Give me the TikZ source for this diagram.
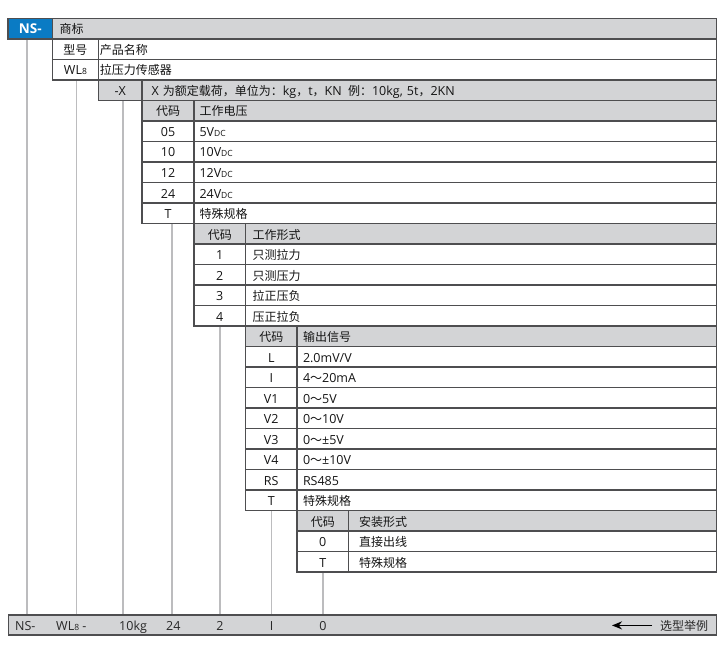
\documentclass[tikz,border=0pt]{standalone}
\usepackage{fontspec}
\setmainfont{Open Sans}
\newfontfamily\cjkfam{Noto Sans CJK SC}
\newcommand\cjk{\cjkfam\fontsize{12pt}{14pt}\selectfont}
\usetikzlibrary{arrows.meta,backgrounds}

\definecolor{edgec}{RGB}{78,78,80}
\definecolor{headc}{RGB}{211,212,214}
\definecolor{brandc}{RGB}{10,123,196}
\definecolor{linec}{RGB}{188,188,190}
\definecolor{txtc}{RGB}{20,20,20}
\definecolor{barc}{RGB}{40,40,40}

\newcommand\lowcaps[1]{{\fontsize{8.5pt}{9pt}\selectfont #1}}

\tikzset{
  cell/.style={draw=edgec, line width=1.1pt, minimum height=20.5pt, inner sep=0pt, outer sep=0pt,
    anchor=north west, text=txtc, text height=11pt, text depth=0.5pt, font=\fontsize{12.5pt}{14pt}\selectfont},
  brandtxt/.style={cell, minimum width=664pt, text width=650pt, align=left},
  modelcode/.style={cell, minimum width=45.8pt},
  modeltxt/.style={cell, minimum width=618.2pt, text width=615.2pt, align=left},
  loadcode/.style={cell, minimum width=43.7pt},
  loadtxt/.style={cell, minimum width=574.5pt, text width=555.5pt, align=left},
  voltcode/.style={cell, minimum width=52pt},
  volttxt/.style={cell, minimum width=522.5pt, text width=511.5pt, align=left},
  formcode/.style={cell, minimum width=51.5pt},
  formtxt/.style={cell, minimum width=471pt, text width=457pt, align=left},
  outcode/.style={cell, minimum width=51.5pt},
  outtxt/.style={cell, minimum width=419.5pt, text width=407.5pt, align=left},
  mountcode/.style={cell, minimum width=51.5pt},
  mounttxt/.style={cell, minimum width=368pt, text width=347pt, align=left},
  vline/.style={draw=linec, line width=1.5pt},
  bartxt/.style={anchor=base west, inner sep=0pt, text=barc, font=\fontsize{12.5pt}{14pt}\selectfont},
  pointer/.style={-{Stealth[length=10pt,width=8pt]}, line width=1.8pt, draw=black},
}

\begin{document}
\begin{tikzpicture}[x=1pt,y=1pt,yscale=-1,xscale=1]
\useasboundingbox (0,0) rectangle (726,650);

% Brand row
\node[cell, fill=brandc, minimum width=44.5pt, text=white, font=\fontsize{13.5pt}{15pt}\selectfont\bfseries] (ns) at (8,18.5) {NS-};
\node[brandtxt, fill=headc] (brand) at (52.5,18.5) {\cjk 商标};

% Model rows
\node[modelcode, fill=white] (mhead) at (52.5,39) {\cjk 型号};
\node[modeltxt, fill=white] (mheadt) at (98.3,39) {\cjk 产品名称};
\node[modelcode, fill=white] (wl) at (52.5,59.5) {WL\lowcaps{8}};
\node[modeltxt, fill=white] (wlt) at (98.3,59.5) {\cjk 拉压力传感器};

% Load row
\node[loadcode, fill=headc] (load) at (98.3,80) {-X};
\node[loadtxt, fill=headc] (loadt) at (142,80) {X {\cjk 为额定载荷，单位为：}kg{\cjk ，}t{\cjk ，}KN\enspace{\cjk 例：}10kg, 5t{\cjk ，}2KN};

% Voltage table
\node[voltcode, fill=headc] (vhead) at (142,100.5) {\cjk 代码};
\node[volttxt, fill=headc] (vheadt) at (194,100.5) {\cjk 工作电压};
\node[voltcode] (v05) at (142,121) {05};
\node[volttxt] (v05t) at (194,121) {5V\lowcaps{DC}};
\node[voltcode] (v10) at (142,141.5) {10};
\node[volttxt] (v10t) at (194,141.5) {10V\lowcaps{DC}};
\node[voltcode] (v12) at (142,162) {12};
\node[volttxt] (v12t) at (194,162) {12V\lowcaps{DC}};
\node[voltcode] (v24) at (142,182.5) {24};
\node[volttxt] (v24t) at (194,182.5) {24V\lowcaps{DC}};
\node[voltcode] (vt) at (142,203) {T};
\node[volttxt] (vtt) at (194,203) {\cjk 特殊规格};

% Form table
\node[formcode, fill=headc] (fhead) at (194,223.5) {\cjk 代码};
\node[formtxt, fill=headc] (fheadt) at (245.5,223.5) {\cjk 工作形式};
\node[formcode] (f1) at (194,244) {1};
\node[formtxt] (f1t) at (245.5,244) {\cjk 只测拉力};
\node[formcode] (f2) at (194,264.5) {2};
\node[formtxt] (f2t) at (245.5,264.5) {\cjk 只测压力};
\node[formcode] (f3) at (194,285) {3};
\node[formtxt] (f3t) at (245.5,285) {\cjk 拉正压负};
\node[formcode] (f4) at (194,305.5) {4};
\node[formtxt] (f4t) at (245.5,305.5) {\cjk 压正拉负};

% Output table
\node[outcode, fill=headc] (ohead) at (245.5,326) {\cjk 代码};
\node[outtxt, fill=headc] (oheadt) at (297,326) {\cjk 输出信号};
\node[outcode] (oL) at (245.5,346.5) {L};
\node[outtxt] (oLt) at (297,346.5) {2.0mV/V};
\node[outcode] (oI) at (245.5,367) {I};
\node[outtxt] (oIt) at (297,367) {4{\cjk ～}20mA};
\node[outcode] (oV1) at (245.5,387.5) {V1};
\node[outtxt] (oV1t) at (297,387.5) {0{\cjk ～}5V};
\node[outcode] (oV2) at (245.5,408) {V2};
\node[outtxt] (oV2t) at (297,408) {0{\cjk ～}10V};
\node[outcode] (oV3) at (245.5,428.5) {V3};
\node[outtxt] (oV3t) at (297,428.5) {0{\cjk ～}±5V};
\node[outcode] (oV4) at (245.5,449) {V4};
\node[outtxt] (oV4t) at (297,449) {0{\cjk ～}±10V};
\node[outcode] (oRS) at (245.5,469.5) {RS};
\node[outtxt] (oRSt) at (297,469.5) {RS485};
\node[outcode] (oT) at (245.5,490) {T};
\node[outtxt] (oTt) at (297,490) {\cjk 特殊规格};

% Mount table
\node[mountcode, fill=headc] (ihead) at (297,510.5) {\cjk 代码};
\node[mounttxt, fill=headc] (iheadt) at (348.5,510.5) {\cjk 安装形式};
\node[mountcode] (i0) at (297,531) {0};
\node[mounttxt] (i0t) at (348.5,531) {\cjk 直接出线};
\node[mountcode] (iT) at (297,551.5) {T};
\node[mounttxt] (iTt) at (348.5,551.5) {\cjk 特殊规格};

% Example bar
\node[cell, fill=headc, minimum width=708.4pt, minimum height=20pt] (bar) at (8.3,615) {};
\node[bartxt] (e1) at (15,630) {NS-};
\node[bartxt] (e2) at (56,630) {WL\lowcaps{8} -};
\node[bartxt] (e3) at (119,630) {10kg};
\node[bartxt] (e4) at (166,630) {24};
\node[bartxt, anchor=base] (e5) at (220,630) {2};
\node[bartxt, anchor=base] (e6) at (271.5,630) {I};
\node[bartxt, anchor=base] (e7) at (323,630) {0};
\node[bartxt] (ex) at (660,630) {\cjk 选型举例};
\coordinate (tip) at ([xshift=-48pt]ex.west);
\draw[pointer] ([xshift=-8pt]ex.west) -- (tip);

% Connection
\begin{scope}[on background layer]
\draw[vline] ([xshift=-3.5pt]ns.south) -- ([xshift=-3.5pt]ns.south |- bar.north);
\draw[vline] ([xshift=1.3pt]wl.south) -- ([xshift=1.3pt]wl.south |- bar.north);
\draw[vline] ([xshift=2.8pt]load.south) -- ([xshift=2.8pt]load.south |- bar.north);
\draw[vline] ([xshift=4pt]vt.south) -- ([xshift=4pt]vt.south |- bar.north);
\draw[vline] (f4.south) -- (f4.south |- bar.north);
\draw[vline] (oT.south) -- (oT.south |- bar.north);
\draw[vline] (iT.south) -- (iT.south |- bar.north);
\end{scope}

\end{tikzpicture}
\end{document}
